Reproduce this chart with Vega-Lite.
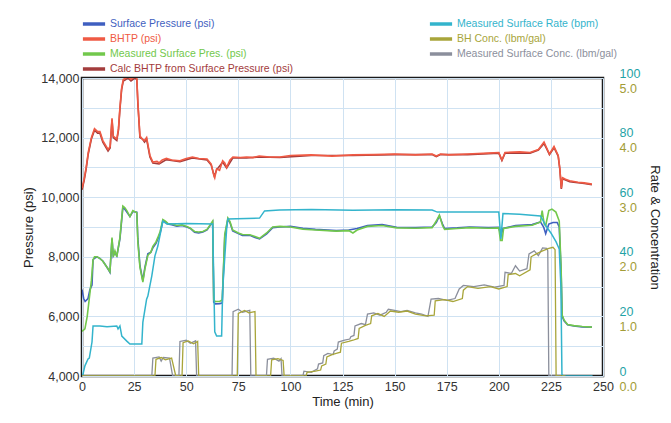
{
  "$schema": "https://vega.github.io/schema/vega-lite/v6.json",
  "width": 521,
  "height": 298,
  "autosize": {"type": "none"},
  "padding": {"left": 82, "top": 78, "right": 68, "bottom": 47},
  "background": "white",
  "config": {
    "font": "Liberation Sans",
    "view": {"stroke": "#1a1a1a", "strokeWidth": 2.5},
    "axis": {"gridColor": "#cfe2f2", "gridWidth": 1, "ticks": false, "domain": false, "labelFontSize": 12.5, "titleFontSize": 13, "titleFontWeight": "normal", "labelColor": "#333333", "titleColor": "#222222"},
    "legend": {"padding": 0, "labelFontSize": 10.5, "labelLimit": 400, "symbolType": "M-1.85,0H1.85", "symbolStrokeWidth": 3.5, "symbolSize": 144, "labelOffset": 8, "rowPadding": 0}
  },
  "datasets": {
    "pressure": [
      {"series": "Calc BHTP from Surface Pressure (psi)", "time": 0, "psi": 10250},
      {"series": "Calc BHTP from Surface Pressure (psi)", "time": 1, "psi": 10550},
      {"series": "Calc BHTP from Surface Pressure (psi)", "time": 2, "psi": 10950},
      {"series": "Calc BHTP from Surface Pressure (psi)", "time": 3, "psi": 11450},
      {"series": "Calc BHTP from Surface Pressure (psi)", "time": 4.5, "psi": 11950},
      {"series": "Calc BHTP from Surface Pressure (psi)", "time": 6, "psi": 12250},
      {"series": "Calc BHTP from Surface Pressure (psi)", "time": 7.5, "psi": 12150},
      {"series": "Calc BHTP from Surface Pressure (psi)", "time": 8.6, "psi": 12150},
      {"series": "Calc BHTP from Surface Pressure (psi)", "time": 10, "psi": 11850},
      {"series": "Calc BHTP from Surface Pressure (psi)", "time": 12.5, "psi": 11550},
      {"series": "Calc BHTP from Surface Pressure (psi)", "time": 13.5, "psi": 11650},
      {"series": "Calc BHTP from Surface Pressure (psi)", "time": 14.4, "psi": 12600},
      {"series": "Calc BHTP from Surface Pressure (psi)", "time": 15, "psi": 12000},
      {"series": "Calc BHTP from Surface Pressure (psi)", "time": 16.7, "psi": 11900},
      {"series": "Calc BHTP from Surface Pressure (psi)", "time": 17.5, "psi": 12250},
      {"series": "Calc BHTP from Surface Pressure (psi)", "time": 18.2, "psi": 12950},
      {"series": "Calc BHTP from Surface Pressure (psi)", "time": 19, "psi": 13600},
      {"series": "Calc BHTP from Surface Pressure (psi)", "time": 19.8, "psi": 13900},
      {"series": "Calc BHTP from Surface Pressure (psi)", "time": 21, "psi": 13950},
      {"series": "Calc BHTP from Surface Pressure (psi)", "time": 22, "psi": 14000},
      {"series": "Calc BHTP from Surface Pressure (psi)", "time": 23.5, "psi": 13900},
      {"series": "Calc BHTP from Surface Pressure (psi)", "time": 25.4, "psi": 14000},
      {"series": "Calc BHTP from Surface Pressure (psi)", "time": 26.3, "psi": 13950},
      {"series": "Calc BHTP from Surface Pressure (psi)", "time": 26.8, "psi": 13150},
      {"series": "Calc BHTP from Surface Pressure (psi)", "time": 27.8, "psi": 12000},
      {"series": "Calc BHTP from Surface Pressure (psi)", "time": 29, "psi": 11950},
      {"series": "Calc BHTP from Surface Pressure (psi)", "time": 30, "psi": 11850},
      {"series": "Calc BHTP from Surface Pressure (psi)", "time": 31, "psi": 11950},
      {"series": "Calc BHTP from Surface Pressure (psi)", "time": 32.6, "psi": 11350},
      {"series": "Calc BHTP from Surface Pressure (psi)", "time": 34, "psi": 11150},
      {"series": "Calc BHTP from Surface Pressure (psi)", "time": 37, "psi": 11120},
      {"series": "Calc BHTP from Surface Pressure (psi)", "time": 40.5, "psi": 11260},
      {"series": "Calc BHTP from Surface Pressure (psi)", "time": 47, "psi": 11190},
      {"series": "Calc BHTP from Surface Pressure (psi)", "time": 53, "psi": 11320},
      {"series": "Calc BHTP from Surface Pressure (psi)", "time": 60, "psi": 11250},
      {"series": "Calc BHTP from Surface Pressure (psi)", "time": 62, "psi": 11080},
      {"series": "Calc BHTP from Surface Pressure (psi)", "time": 63.5, "psi": 10700},
      {"series": "Calc BHTP from Surface Pressure (psi)", "time": 64.6, "psi": 10920},
      {"series": "Calc BHTP from Surface Pressure (psi)", "time": 67.5, "psi": 11180},
      {"series": "Calc BHTP from Surface Pressure (psi)", "time": 69.4, "psi": 10980},
      {"series": "Calc BHTP from Surface Pressure (psi)", "time": 72.4, "psi": 11320},
      {"series": "Calc BHTP from Surface Pressure (psi)", "time": 79, "psi": 11320},
      {"series": "Calc BHTP from Surface Pressure (psi)", "time": 85, "psi": 11350},
      {"series": "Calc BHTP from Surface Pressure (psi)", "time": 95, "psi": 11330},
      {"series": "Calc BHTP from Surface Pressure (psi)", "time": 110, "psi": 11400},
      {"series": "Calc BHTP from Surface Pressure (psi)", "time": 130, "psi": 11400},
      {"series": "Calc BHTP from Surface Pressure (psi)", "time": 150, "psi": 11430},
      {"series": "Calc BHTP from Surface Pressure (psi)", "time": 168, "psi": 11430},
      {"series": "Calc BHTP from Surface Pressure (psi)", "time": 170, "psi": 11360},
      {"series": "Calc BHTP from Surface Pressure (psi)", "time": 172, "psi": 11430},
      {"series": "Calc BHTP from Surface Pressure (psi)", "time": 185, "psi": 11430},
      {"series": "Calc BHTP from Surface Pressure (psi)", "time": 200, "psi": 11480},
      {"series": "Calc BHTP from Surface Pressure (psi)", "time": 201.5, "psi": 11230},
      {"series": "Calc BHTP from Surface Pressure (psi)", "time": 203, "psi": 11480},
      {"series": "Calc BHTP from Surface Pressure (psi)", "time": 215, "psi": 11480},
      {"series": "Calc BHTP from Surface Pressure (psi)", "time": 219, "psi": 11580},
      {"series": "Calc BHTP from Surface Pressure (psi)", "time": 221.7, "psi": 11800},
      {"series": "Calc BHTP from Surface Pressure (psi)", "time": 223, "psi": 11620},
      {"series": "Calc BHTP from Surface Pressure (psi)", "time": 224.3, "psi": 11430},
      {"series": "Calc BHTP from Surface Pressure (psi)", "time": 226.5, "psi": 11660},
      {"series": "Calc BHTP from Surface Pressure (psi)", "time": 228.5, "psi": 11380},
      {"series": "Calc BHTP from Surface Pressure (psi)", "time": 229.3, "psi": 10930},
      {"series": "Calc BHTP from Surface Pressure (psi)", "time": 230, "psi": 10280},
      {"series": "Calc BHTP from Surface Pressure (psi)", "time": 230.6, "psi": 10620},
      {"series": "Calc BHTP from Surface Pressure (psi)", "time": 234, "psi": 10520},
      {"series": "Calc BHTP from Surface Pressure (psi)", "time": 241, "psi": 10460},
      {"series": "Calc BHTP from Surface Pressure (psi)", "time": 244.7, "psi": 10420},

      {"series": "BHTP (psi)", "time": 0, "psi": 10300},
      {"series": "BHTP (psi)", "time": 1, "psi": 10600},
      {"series": "BHTP (psi)", "time": 2, "psi": 11000},
      {"series": "BHTP (psi)", "time": 3, "psi": 11500},
      {"series": "BHTP (psi)", "time": 4.5, "psi": 12000},
      {"series": "BHTP (psi)", "time": 6, "psi": 12300},
      {"series": "BHTP (psi)", "time": 7.5, "psi": 12200},
      {"series": "BHTP (psi)", "time": 8.6, "psi": 12200},
      {"series": "BHTP (psi)", "time": 10, "psi": 11900},
      {"series": "BHTP (psi)", "time": 12.5, "psi": 11600},
      {"series": "BHTP (psi)", "time": 13.5, "psi": 11700},
      {"series": "BHTP (psi)", "time": 14.4, "psi": 12650},
      {"series": "BHTP (psi)", "time": 15, "psi": 12050},
      {"series": "BHTP (psi)", "time": 16.7, "psi": 11950},
      {"series": "BHTP (psi)", "time": 17.5, "psi": 12300},
      {"series": "BHTP (psi)", "time": 18.2, "psi": 13000},
      {"series": "BHTP (psi)", "time": 19, "psi": 13650},
      {"series": "BHTP (psi)", "time": 19.8, "psi": 13950},
      {"series": "BHTP (psi)", "time": 21, "psi": 14000},
      {"series": "BHTP (psi)", "time": 22, "psi": 14050},
      {"series": "BHTP (psi)", "time": 23.5, "psi": 13950},
      {"series": "BHTP (psi)", "time": 25.4, "psi": 14070},
      {"series": "BHTP (psi)", "time": 26.3, "psi": 14000},
      {"series": "BHTP (psi)", "time": 26.8, "psi": 13200},
      {"series": "BHTP (psi)", "time": 27.8, "psi": 12050},
      {"series": "BHTP (psi)", "time": 29, "psi": 11950},
      {"series": "BHTP (psi)", "time": 30, "psi": 11900},
      {"series": "BHTP (psi)", "time": 31, "psi": 12000},
      {"series": "BHTP (psi)", "time": 32.6, "psi": 11400},
      {"series": "BHTP (psi)", "time": 34, "psi": 11180},
      {"series": "BHTP (psi)", "time": 36, "psi": 11200},
      {"series": "BHTP (psi)", "time": 37, "psi": 11150},
      {"series": "BHTP (psi)", "time": 38.5, "psi": 11250},
      {"series": "BHTP (psi)", "time": 40.5, "psi": 11300},
      {"series": "BHTP (psi)", "time": 43, "psi": 11250},
      {"series": "BHTP (psi)", "time": 47, "psi": 11220},
      {"series": "BHTP (psi)", "time": 50, "psi": 11300},
      {"series": "BHTP (psi)", "time": 53, "psi": 11350},
      {"series": "BHTP (psi)", "time": 56, "psi": 11300},
      {"series": "BHTP (psi)", "time": 60, "psi": 11280},
      {"series": "BHTP (psi)", "time": 62, "psi": 11110},
      {"series": "BHTP (psi)", "time": 63.2, "psi": 10750},
      {"series": "BHTP (psi)", "time": 63.7, "psi": 10650},
      {"series": "BHTP (psi)", "time": 64.6, "psi": 10950},
      {"series": "BHTP (psi)", "time": 66, "psi": 10900},
      {"series": "BHTP (psi)", "time": 67.5, "psi": 11220},
      {"series": "BHTP (psi)", "time": 68.5, "psi": 11150},
      {"series": "BHTP (psi)", "time": 69.4, "psi": 11000},
      {"series": "BHTP (psi)", "time": 71, "psi": 11250},
      {"series": "BHTP (psi)", "time": 72.4, "psi": 11350},
      {"series": "BHTP (psi)", "time": 76, "psi": 11330},
      {"series": "BHTP (psi)", "time": 79, "psi": 11350},
      {"series": "BHTP (psi)", "time": 82, "psi": 11330},
      {"series": "BHTP (psi)", "time": 85, "psi": 11380},
      {"series": "BHTP (psi)", "time": 90, "psi": 11350},
      {"series": "BHTP (psi)", "time": 95, "psi": 11350},
      {"series": "BHTP (psi)", "time": 100, "psi": 11400},
      {"series": "BHTP (psi)", "time": 110, "psi": 11420},
      {"series": "BHTP (psi)", "time": 120, "psi": 11380},
      {"series": "BHTP (psi)", "time": 130, "psi": 11420},
      {"series": "BHTP (psi)", "time": 140, "psi": 11430},
      {"series": "BHTP (psi)", "time": 150, "psi": 11450},
      {"series": "BHTP (psi)", "time": 160, "psi": 11420},
      {"series": "BHTP (psi)", "time": 168, "psi": 11450},
      {"series": "BHTP (psi)", "time": 170, "psi": 11380},
      {"series": "BHTP (psi)", "time": 172, "psi": 11450},
      {"series": "BHTP (psi)", "time": 176, "psi": 11420},
      {"series": "BHTP (psi)", "time": 185, "psi": 11450},
      {"series": "BHTP (psi)", "time": 195, "psi": 11480},
      {"series": "BHTP (psi)", "time": 200, "psi": 11500},
      {"series": "BHTP (psi)", "time": 201.5, "psi": 11250},
      {"series": "BHTP (psi)", "time": 203, "psi": 11500},
      {"series": "BHTP (psi)", "time": 210, "psi": 11520},
      {"series": "BHTP (psi)", "time": 215, "psi": 11500},
      {"series": "BHTP (psi)", "time": 219, "psi": 11600},
      {"series": "BHTP (psi)", "time": 221.7, "psi": 11850},
      {"series": "BHTP (psi)", "time": 223, "psi": 11650},
      {"series": "BHTP (psi)", "time": 224.3, "psi": 11450},
      {"series": "BHTP (psi)", "time": 226.5, "psi": 11700},
      {"series": "BHTP (psi)", "time": 228.5, "psi": 11400},
      {"series": "BHTP (psi)", "time": 229.3, "psi": 10950},
      {"series": "BHTP (psi)", "time": 230, "psi": 10300},
      {"series": "BHTP (psi)", "time": 230.6, "psi": 10650},
      {"series": "BHTP (psi)", "time": 232, "psi": 10600},
      {"series": "BHTP (psi)", "time": 234, "psi": 10550},
      {"series": "BHTP (psi)", "time": 238, "psi": 10500},
      {"series": "BHTP (psi)", "time": 241, "psi": 10480},
      {"series": "BHTP (psi)", "time": 244.7, "psi": 10440},

      {"series": "Surface Pressure (psi)", "time": 0, "psi": 6900},
      {"series": "Surface Pressure (psi)", "time": 0.8, "psi": 6600},
      {"series": "Surface Pressure (psi)", "time": 1.5, "psi": 6500},
      {"series": "Surface Pressure (psi)", "time": 2.9, "psi": 6600},
      {"series": "Surface Pressure (psi)", "time": 3.8, "psi": 6900},
      {"series": "Surface Pressure (psi)", "time": 4.8, "psi": 7050},
      {"series": "Surface Pressure (psi)", "time": 5.3, "psi": 7900},
      {"series": "Surface Pressure (psi)", "time": 6, "psi": 7950},
      {"series": "Surface Pressure (psi)", "time": 7.2, "psi": 8000},
      {"series": "Surface Pressure (psi)", "time": 8.5, "psi": 7950},
      {"series": "Surface Pressure (psi)", "time": 10, "psi": 7860},
      {"series": "Surface Pressure (psi)", "time": 11.5, "psi": 7700},
      {"series": "Surface Pressure (psi)", "time": 12.5, "psi": 7590},
      {"series": "Surface Pressure (psi)", "time": 13.4, "psi": 7480},
      {"series": "Surface Pressure (psi)", "time": 14.4, "psi": 8600},
      {"series": "Surface Pressure (psi)", "time": 15, "psi": 8030},
      {"series": "Surface Pressure (psi)", "time": 15.8, "psi": 8150},
      {"series": "Surface Pressure (psi)", "time": 16.7, "psi": 8030},
      {"series": "Surface Pressure (psi)", "time": 18.2, "psi": 8600},
      {"series": "Surface Pressure (psi)", "time": 19.6, "psi": 9650},
      {"series": "Surface Pressure (psi)", "time": 20.5, "psi": 9600},
      {"series": "Surface Pressure (psi)", "time": 21.5, "psi": 9500},
      {"series": "Surface Pressure (psi)", "time": 23, "psi": 9350},
      {"series": "Surface Pressure (psi)", "time": 24.4, "psi": 9520},
      {"series": "Surface Pressure (psi)", "time": 26.3, "psi": 9500},
      {"series": "Surface Pressure (psi)", "time": 26.8, "psi": 8600},
      {"series": "Surface Pressure (psi)", "time": 27.8, "psi": 7700},
      {"series": "Surface Pressure (psi)", "time": 29.2, "psi": 7200},
      {"series": "Surface Pressure (psi)", "time": 30.2, "psi": 7650},
      {"series": "Surface Pressure (psi)", "time": 31.6, "psi": 8100},
      {"series": "Surface Pressure (psi)", "time": 33, "psi": 8150},
      {"series": "Surface Pressure (psi)", "time": 34, "psi": 8300},
      {"series": "Surface Pressure (psi)", "time": 35.5, "psi": 8450},
      {"series": "Surface Pressure (psi)", "time": 36.4, "psi": 8600},
      {"series": "Surface Pressure (psi)", "time": 37.5, "psi": 8800},
      {"series": "Surface Pressure (psi)", "time": 38.8, "psi": 9200},
      {"series": "Surface Pressure (psi)", "time": 40, "psi": 9180},
      {"series": "Surface Pressure (psi)", "time": 41.2, "psi": 9100},
      {"series": "Surface Pressure (psi)", "time": 43, "psi": 9080},
      {"series": "Surface Pressure (psi)", "time": 45.5, "psi": 9030},
      {"series": "Surface Pressure (psi)", "time": 48, "psi": 9050},
      {"series": "Surface Pressure (psi)", "time": 50.3, "psi": 9000},
      {"series": "Surface Pressure (psi)", "time": 52, "psi": 8950},
      {"series": "Surface Pressure (psi)", "time": 54, "psi": 8820},
      {"series": "Surface Pressure (psi)", "time": 56, "psi": 8800},
      {"series": "Surface Pressure (psi)", "time": 58, "psi": 8830},
      {"series": "Surface Pressure (psi)", "time": 60, "psi": 8900},
      {"series": "Surface Pressure (psi)", "time": 61.3, "psi": 9030},
      {"series": "Surface Pressure (psi)", "time": 62.7, "psi": 9170},
      {"series": "Surface Pressure (psi)", "time": 63.2, "psi": 6480},
      {"series": "Surface Pressure (psi)", "time": 64, "psi": 6420},
      {"series": "Surface Pressure (psi)", "time": 66, "psi": 6430},
      {"series": "Surface Pressure (psi)", "time": 67.3, "psi": 6450},
      {"series": "Surface Pressure (psi)", "time": 68.5, "psi": 8670},
      {"series": "Surface Pressure (psi)", "time": 70, "psi": 9270},
      {"series": "Surface Pressure (psi)", "time": 71, "psi": 9150},
      {"series": "Surface Pressure (psi)", "time": 72.3, "psi": 8870},
      {"series": "Surface Pressure (psi)", "time": 75, "psi": 8780},
      {"series": "Surface Pressure (psi)", "time": 77, "psi": 8720},
      {"series": "Surface Pressure (psi)", "time": 80.5, "psi": 8720},
      {"series": "Surface Pressure (psi)", "time": 83, "psi": 8650},
      {"series": "Surface Pressure (psi)", "time": 85.2, "psi": 8600},
      {"series": "Surface Pressure (psi)", "time": 88.6, "psi": 8770},
      {"series": "Surface Pressure (psi)", "time": 91.5, "psi": 8980},
      {"series": "Surface Pressure (psi)", "time": 95, "psi": 9000},
      {"series": "Surface Pressure (psi)", "time": 100, "psi": 9020},
      {"series": "Surface Pressure (psi)", "time": 106, "psi": 8960},
      {"series": "Surface Pressure (psi)", "time": 112, "psi": 8920},
      {"series": "Surface Pressure (psi)", "time": 122, "psi": 8880},
      {"series": "Surface Pressure (psi)", "time": 128, "psi": 8900},
      {"series": "Surface Pressure (psi)", "time": 132, "psi": 8950},
      {"series": "Surface Pressure (psi)", "time": 137, "psi": 9050},
      {"series": "Surface Pressure (psi)", "time": 144, "psi": 9080},
      {"series": "Surface Pressure (psi)", "time": 151, "psi": 8990},
      {"series": "Surface Pressure (psi)", "time": 160, "psi": 8980},
      {"series": "Surface Pressure (psi)", "time": 168, "psi": 9000},
      {"series": "Surface Pressure (psi)", "time": 170, "psi": 9150},
      {"series": "Surface Pressure (psi)", "time": 171.5, "psi": 9370},
      {"series": "Surface Pressure (psi)", "time": 173, "psi": 9100},
      {"series": "Surface Pressure (psi)", "time": 174, "psi": 8950},
      {"series": "Surface Pressure (psi)", "time": 180, "psi": 8970},
      {"series": "Surface Pressure (psi)", "time": 186, "psi": 9000},
      {"series": "Surface Pressure (psi)", "time": 195, "psi": 8980},
      {"series": "Surface Pressure (psi)", "time": 200, "psi": 8990},
      {"series": "Surface Pressure (psi)", "time": 201, "psi": 8700},
      {"series": "Surface Pressure (psi)", "time": 202, "psi": 8950},
      {"series": "Surface Pressure (psi)", "time": 208, "psi": 9050},
      {"series": "Surface Pressure (psi)", "time": 216, "psi": 9080},
      {"series": "Surface Pressure (psi)", "time": 220, "psi": 9170},
      {"series": "Surface Pressure (psi)", "time": 221.5, "psi": 9000},
      {"series": "Surface Pressure (psi)", "time": 222.5, "psi": 8780},
      {"series": "Surface Pressure (psi)", "time": 224, "psi": 9100},
      {"series": "Surface Pressure (psi)", "time": 226, "psi": 9150},
      {"series": "Surface Pressure (psi)", "time": 228, "psi": 9150},
      {"series": "Surface Pressure (psi)", "time": 229, "psi": 9000},
      {"series": "Surface Pressure (psi)", "time": 229.9, "psi": 7500},
      {"series": "Surface Pressure (psi)", "time": 230.4, "psi": 6010},
      {"series": "Surface Pressure (psi)", "time": 231.3, "psi": 5850},
      {"series": "Surface Pressure (psi)", "time": 233, "psi": 5720},
      {"series": "Surface Pressure (psi)", "time": 236, "psi": 5680},
      {"series": "Surface Pressure (psi)", "time": 240, "psi": 5650},
      {"series": "Surface Pressure (psi)", "time": 244.7, "psi": 5640},

      {"series": "Measured Surface Pres. (psi)", "time": 0, "psi": 5500},
      {"series": "Measured Surface Pres. (psi)", "time": 1.4, "psi": 5580},
      {"series": "Measured Surface Pres. (psi)", "time": 2.5, "psi": 6000},
      {"series": "Measured Surface Pres. (psi)", "time": 3.5, "psi": 6600},
      {"series": "Measured Surface Pres. (psi)", "time": 4.5, "psi": 7200},
      {"series": "Measured Surface Pres. (psi)", "time": 5.3, "psi": 7900},
      {"series": "Measured Surface Pres. (psi)", "time": 6, "psi": 8000},
      {"series": "Measured Surface Pres. (psi)", "time": 7.2, "psi": 8000},
      {"series": "Measured Surface Pres. (psi)", "time": 8.5, "psi": 7950},
      {"series": "Measured Surface Pres. (psi)", "time": 10, "psi": 7850},
      {"series": "Measured Surface Pres. (psi)", "time": 11.5, "psi": 7700},
      {"series": "Measured Surface Pres. (psi)", "time": 12.5, "psi": 7600},
      {"series": "Measured Surface Pres. (psi)", "time": 13.4, "psi": 7500},
      {"series": "Measured Surface Pres. (psi)", "time": 14.4, "psi": 8650},
      {"series": "Measured Surface Pres. (psi)", "time": 15, "psi": 8000},
      {"series": "Measured Surface Pres. (psi)", "time": 15.8, "psi": 8200},
      {"series": "Measured Surface Pres. (psi)", "time": 16.7, "psi": 8000},
      {"series": "Measured Surface Pres. (psi)", "time": 18.2, "psi": 8650},
      {"series": "Measured Surface Pres. (psi)", "time": 19.6, "psi": 9700},
      {"series": "Measured Surface Pres. (psi)", "time": 20.5, "psi": 9650},
      {"series": "Measured Surface Pres. (psi)", "time": 21.5, "psi": 9550},
      {"series": "Measured Surface Pres. (psi)", "time": 23, "psi": 9350},
      {"series": "Measured Surface Pres. (psi)", "time": 24.4, "psi": 9550},
      {"series": "Measured Surface Pres. (psi)", "time": 26.3, "psi": 9480},
      {"series": "Measured Surface Pres. (psi)", "time": 26.8, "psi": 8500},
      {"series": "Measured Surface Pres. (psi)", "time": 27.8, "psi": 7650},
      {"series": "Measured Surface Pres. (psi)", "time": 29.2, "psi": 7150},
      {"series": "Measured Surface Pres. (psi)", "time": 30.2, "psi": 7600},
      {"series": "Measured Surface Pres. (psi)", "time": 31.6, "psi": 8050},
      {"series": "Measured Surface Pres. (psi)", "time": 33, "psi": 8150},
      {"series": "Measured Surface Pres. (psi)", "time": 34, "psi": 8350},
      {"series": "Measured Surface Pres. (psi)", "time": 35.5, "psi": 8500},
      {"series": "Measured Surface Pres. (psi)", "time": 36.4, "psi": 8650},
      {"series": "Measured Surface Pres. (psi)", "time": 37.5, "psi": 8850},
      {"series": "Measured Surface Pres. (psi)", "time": 38.8, "psi": 9250},
      {"series": "Measured Surface Pres. (psi)", "time": 40, "psi": 9200},
      {"series": "Measured Surface Pres. (psi)", "time": 41.2, "psi": 9120},
      {"series": "Measured Surface Pres. (psi)", "time": 43, "psi": 9100},
      {"series": "Measured Surface Pres. (psi)", "time": 45.5, "psi": 9050},
      {"series": "Measured Surface Pres. (psi)", "time": 48, "psi": 9070},
      {"series": "Measured Surface Pres. (psi)", "time": 50.3, "psi": 9020},
      {"series": "Measured Surface Pres. (psi)", "time": 52, "psi": 8960},
      {"series": "Measured Surface Pres. (psi)", "time": 54, "psi": 8850},
      {"series": "Measured Surface Pres. (psi)", "time": 56, "psi": 8830},
      {"series": "Measured Surface Pres. (psi)", "time": 58, "psi": 8850},
      {"series": "Measured Surface Pres. (psi)", "time": 60, "psi": 8920},
      {"series": "Measured Surface Pres. (psi)", "time": 61.3, "psi": 9050},
      {"series": "Measured Surface Pres. (psi)", "time": 62.7, "psi": 9200},
      {"series": "Measured Surface Pres. (psi)", "time": 63.2, "psi": 6550},
      {"series": "Measured Surface Pres. (psi)", "time": 64, "psi": 6500},
      {"series": "Measured Surface Pres. (psi)", "time": 66, "psi": 6500},
      {"series": "Measured Surface Pres. (psi)", "time": 67.3, "psi": 6550},
      {"series": "Measured Surface Pres. (psi)", "time": 68.5, "psi": 8750},
      {"series": "Measured Surface Pres. (psi)", "time": 70, "psi": 9300},
      {"series": "Measured Surface Pres. (psi)", "time": 71, "psi": 9180},
      {"series": "Measured Surface Pres. (psi)", "time": 72.3, "psi": 8900},
      {"series": "Measured Surface Pres. (psi)", "time": 75, "psi": 8800},
      {"series": "Measured Surface Pres. (psi)", "time": 77, "psi": 8750},
      {"series": "Measured Surface Pres. (psi)", "time": 80.5, "psi": 8740},
      {"series": "Measured Surface Pres. (psi)", "time": 83, "psi": 8680},
      {"series": "Measured Surface Pres. (psi)", "time": 85.2, "psi": 8620},
      {"series": "Measured Surface Pres. (psi)", "time": 88.6, "psi": 8800},
      {"series": "Measured Surface Pres. (psi)", "time": 91.5, "psi": 9000},
      {"series": "Measured Surface Pres. (psi)", "time": 95, "psi": 9020},
      {"series": "Measured Surface Pres. (psi)", "time": 100, "psi": 9000},
      {"series": "Measured Surface Pres. (psi)", "time": 106, "psi": 8930},
      {"series": "Measured Surface Pres. (psi)", "time": 112, "psi": 8900},
      {"series": "Measured Surface Pres. (psi)", "time": 122, "psi": 8860},
      {"series": "Measured Surface Pres. (psi)", "time": 128, "psi": 8880},
      {"series": "Measured Surface Pres. (psi)", "time": 130, "psi": 8800},
      {"series": "Measured Surface Pres. (psi)", "time": 132, "psi": 8900},
      {"series": "Measured Surface Pres. (psi)", "time": 137, "psi": 9020},
      {"series": "Measured Surface Pres. (psi)", "time": 144, "psi": 9050},
      {"series": "Measured Surface Pres. (psi)", "time": 151, "psi": 8970},
      {"series": "Measured Surface Pres. (psi)", "time": 160, "psi": 8960},
      {"series": "Measured Surface Pres. (psi)", "time": 168, "psi": 8980},
      {"series": "Measured Surface Pres. (psi)", "time": 170, "psi": 9200},
      {"series": "Measured Surface Pres. (psi)", "time": 171.5, "psi": 9400},
      {"series": "Measured Surface Pres. (psi)", "time": 173, "psi": 9050},
      {"series": "Measured Surface Pres. (psi)", "time": 174, "psi": 8920},
      {"series": "Measured Surface Pres. (psi)", "time": 180, "psi": 8950},
      {"series": "Measured Surface Pres. (psi)", "time": 186, "psi": 8980},
      {"series": "Measured Surface Pres. (psi)", "time": 195, "psi": 8960},
      {"series": "Measured Surface Pres. (psi)", "time": 200, "psi": 8970},
      {"series": "Measured Surface Pres. (psi)", "time": 200.8, "psi": 8550},
      {"series": "Measured Surface Pres. (psi)", "time": 201.6, "psi": 8550},
      {"series": "Measured Surface Pres. (psi)", "time": 202.3, "psi": 8950},
      {"series": "Measured Surface Pres. (psi)", "time": 208, "psi": 9020},
      {"series": "Measured Surface Pres. (psi)", "time": 216, "psi": 9060},
      {"series": "Measured Surface Pres. (psi)", "time": 220, "psi": 9170},
      {"series": "Measured Surface Pres. (psi)", "time": 220.8, "psi": 9550},
      {"series": "Measured Surface Pres. (psi)", "time": 221.8, "psi": 9100},
      {"series": "Measured Surface Pres. (psi)", "time": 222.5, "psi": 9050},
      {"series": "Measured Surface Pres. (psi)", "time": 224, "psi": 9550},
      {"series": "Measured Surface Pres. (psi)", "time": 225.5, "psi": 9600},
      {"series": "Measured Surface Pres. (psi)", "time": 227.4, "psi": 9500},
      {"series": "Measured Surface Pres. (psi)", "time": 229, "psi": 9200},
      {"series": "Measured Surface Pres. (psi)", "time": 229.9, "psi": 7600},
      {"series": "Measured Surface Pres. (psi)", "time": 230.4, "psi": 6050},
      {"series": "Measured Surface Pres. (psi)", "time": 231.3, "psi": 5880},
      {"series": "Measured Surface Pres. (psi)", "time": 233, "psi": 5730},
      {"series": "Measured Surface Pres. (psi)", "time": 236, "psi": 5690},
      {"series": "Measured Surface Pres. (psi)", "time": 240, "psi": 5660},
      {"series": "Measured Surface Pres. (psi)", "time": 244.7, "psi": 5640}
    ],
    "rate": [
      {"series": "Measured Surface Rate (bpm)", "time": 0, "bpm": 0},
      {"series": "Measured Surface Rate (bpm)", "time": 0.5, "bpm": 0.7},
      {"series": "Measured Surface Rate (bpm)", "time": 1.4, "bpm": 3.4},
      {"series": "Measured Surface Rate (bpm)", "time": 2.9, "bpm": 5.7},
      {"series": "Measured Surface Rate (bpm)", "time": 3.5, "bpm": 6},
      {"series": "Measured Surface Rate (bpm)", "time": 4.8, "bpm": 11.4},
      {"series": "Measured Surface Rate (bpm)", "time": 5.3, "bpm": 16.8},
      {"series": "Measured Surface Rate (bpm)", "time": 8.6, "bpm": 16.8},
      {"series": "Measured Surface Rate (bpm)", "time": 12, "bpm": 16.5},
      {"series": "Measured Surface Rate (bpm)", "time": 16.7, "bpm": 16.8},
      {"series": "Measured Surface Rate (bpm)", "time": 17.3, "bpm": 15.8},
      {"series": "Measured Surface Rate (bpm)", "time": 18.2, "bpm": 16.8},
      {"series": "Measured Surface Rate (bpm)", "time": 19.1, "bpm": 13.4},
      {"series": "Measured Surface Rate (bpm)", "time": 21.5, "bpm": 11.7},
      {"series": "Measured Surface Rate (bpm)", "time": 23, "bpm": 10.7},
      {"series": "Measured Surface Rate (bpm)", "time": 28.7, "bpm": 10.7},
      {"series": "Measured Surface Rate (bpm)", "time": 29.2, "bpm": 18},
      {"series": "Measured Surface Rate (bpm)", "time": 31, "bpm": 25.8},
      {"series": "Measured Surface Rate (bpm)", "time": 31.6, "bpm": 26.8},
      {"series": "Measured Surface Rate (bpm)", "time": 33.5, "bpm": 33.6},
      {"series": "Measured Surface Rate (bpm)", "time": 35, "bpm": 40.3},
      {"series": "Measured Surface Rate (bpm)", "time": 36.4, "bpm": 43.6},
      {"series": "Measured Surface Rate (bpm)", "time": 38.3, "bpm": 50.3},
      {"series": "Measured Surface Rate (bpm)", "time": 38.8, "bpm": 52},
      {"series": "Measured Surface Rate (bpm)", "time": 40.7, "bpm": 51},
      {"series": "Measured Surface Rate (bpm)", "time": 50, "bpm": 51.2},
      {"series": "Measured Surface Rate (bpm)", "time": 62.7, "bpm": 51},
      {"series": "Measured Surface Rate (bpm)", "time": 63.7, "bpm": 14.8},
      {"series": "Measured Surface Rate (bpm)", "time": 64.6, "bpm": 13.4},
      {"series": "Measured Surface Rate (bpm)", "time": 67, "bpm": 13.4},
      {"series": "Measured Surface Rate (bpm)", "time": 67.5, "bpm": 29},
      {"series": "Measured Surface Rate (bpm)", "time": 69.4, "bpm": 49.3},
      {"series": "Measured Surface Rate (bpm)", "time": 70, "bpm": 52.7},
      {"series": "Measured Surface Rate (bpm)", "time": 85.2, "bpm": 53},
      {"series": "Measured Surface Rate (bpm)", "time": 87.6, "bpm": 55.4},
      {"series": "Measured Surface Rate (bpm)", "time": 94.8, "bpm": 55.7},
      {"series": "Measured Surface Rate (bpm)", "time": 110, "bpm": 55.9},
      {"series": "Measured Surface Rate (bpm)", "time": 130, "bpm": 55.6},
      {"series": "Measured Surface Rate (bpm)", "time": 150, "bpm": 55.8},
      {"series": "Measured Surface Rate (bpm)", "time": 168, "bpm": 55.7},
      {"series": "Measured Surface Rate (bpm)", "time": 170.5, "bpm": 55},
      {"series": "Measured Surface Rate (bpm)", "time": 186, "bpm": 55},
      {"series": "Measured Surface Rate (bpm)", "time": 200, "bpm": 55},
      {"series": "Measured Surface Rate (bpm)", "time": 201, "bpm": 46},
      {"series": "Measured Surface Rate (bpm)", "time": 202, "bpm": 54.5},
      {"series": "Measured Surface Rate (bpm)", "time": 210, "bpm": 54.3},
      {"series": "Measured Surface Rate (bpm)", "time": 220, "bpm": 53.7},
      {"series": "Measured Surface Rate (bpm)", "time": 222.7, "bpm": 50.3},
      {"series": "Measured Surface Rate (bpm)", "time": 225, "bpm": 48},
      {"series": "Measured Surface Rate (bpm)", "time": 227.5, "bpm": 45},
      {"series": "Measured Surface Rate (bpm)", "time": 229, "bpm": 42.6},
      {"series": "Measured Surface Rate (bpm)", "time": 229.8, "bpm": 30},
      {"series": "Measured Surface Rate (bpm)", "time": 230.3, "bpm": 0.5},
      {"series": "Measured Surface Rate (bpm)", "time": 231, "bpm": 0},
      {"series": "Measured Surface Rate (bpm)", "time": 245, "bpm": 0}
    ],
    "conc": [
      {"series": "Measured Surface Conc. (lbm/gal)", "time": 0, "ppg": 0},
      {"series": "Measured Surface Conc. (lbm/gal)", "time": 33.5, "ppg": 0},
      {"series": "Measured Surface Conc. (lbm/gal)", "time": 34, "ppg": 0.3},
      {"series": "Measured Surface Conc. (lbm/gal)", "time": 37, "ppg": 0.32},
      {"series": "Measured Surface Conc. (lbm/gal)", "time": 38, "ppg": 0.25},
      {"series": "Measured Surface Conc. (lbm/gal)", "time": 39, "ppg": 0.31},
      {"series": "Measured Surface Conc. (lbm/gal)", "time": 42, "ppg": 0.3},
      {"series": "Measured Surface Conc. (lbm/gal)", "time": 43.5, "ppg": 0},
      {"series": "Measured Surface Conc. (lbm/gal)", "time": 46.5, "ppg": 0},
      {"series": "Measured Surface Conc. (lbm/gal)", "time": 47, "ppg": 0.58},
      {"series": "Measured Surface Conc. (lbm/gal)", "time": 50, "ppg": 0.6},
      {"series": "Measured Surface Conc. (lbm/gal)", "time": 52, "ppg": 0.55},
      {"series": "Measured Surface Conc. (lbm/gal)", "time": 54.5, "ppg": 0.59},
      {"series": "Measured Surface Conc. (lbm/gal)", "time": 55, "ppg": 0},
      {"series": "Measured Surface Conc. (lbm/gal)", "time": 72, "ppg": 0},
      {"series": "Measured Surface Conc. (lbm/gal)", "time": 72.5, "ppg": 1.08},
      {"series": "Measured Surface Conc. (lbm/gal)", "time": 75, "ppg": 1.12},
      {"series": "Measured Surface Conc. (lbm/gal)", "time": 77, "ppg": 1.07},
      {"series": "Measured Surface Conc. (lbm/gal)", "time": 80.5, "ppg": 1.1},
      {"series": "Measured Surface Conc. (lbm/gal)", "time": 81, "ppg": 0},
      {"series": "Measured Surface Conc. (lbm/gal)", "time": 88.5, "ppg": 0},
      {"series": "Measured Surface Conc. (lbm/gal)", "time": 89, "ppg": 0.28},
      {"series": "Measured Surface Conc. (lbm/gal)", "time": 92, "ppg": 0.3},
      {"series": "Measured Surface Conc. (lbm/gal)", "time": 94.5, "ppg": 0.25},
      {"series": "Measured Surface Conc. (lbm/gal)", "time": 95.5, "ppg": 0.29},
      {"series": "Measured Surface Conc. (lbm/gal)", "time": 96, "ppg": 0},
      {"series": "Measured Surface Conc. (lbm/gal)", "time": 106, "ppg": 0},
      {"series": "Measured Surface Conc. (lbm/gal)", "time": 106.5, "ppg": 0.08},
      {"series": "Measured Surface Conc. (lbm/gal)", "time": 110, "ppg": 0.06},
      {"series": "Measured Surface Conc. (lbm/gal)", "time": 113, "ppg": 0.12},
      {"series": "Measured Surface Conc. (lbm/gal)", "time": 113.5, "ppg": 0.2},
      {"series": "Measured Surface Conc. (lbm/gal)", "time": 115.5, "ppg": 0.22},
      {"series": "Measured Surface Conc. (lbm/gal)", "time": 116, "ppg": 0.34},
      {"series": "Measured Surface Conc. (lbm/gal)", "time": 118, "ppg": 0.38},
      {"series": "Measured Surface Conc. (lbm/gal)", "time": 120.5, "ppg": 0.36},
      {"series": "Measured Surface Conc. (lbm/gal)", "time": 121, "ppg": 0.42},
      {"series": "Measured Surface Conc. (lbm/gal)", "time": 122.5, "ppg": 0.45},
      {"series": "Measured Surface Conc. (lbm/gal)", "time": 123, "ppg": 0.57},
      {"series": "Measured Surface Conc. (lbm/gal)", "time": 126, "ppg": 0.6},
      {"series": "Measured Surface Conc. (lbm/gal)", "time": 128.5, "ppg": 0.62},
      {"series": "Measured Surface Conc. (lbm/gal)", "time": 129, "ppg": 0.66},
      {"series": "Measured Surface Conc. (lbm/gal)", "time": 130.5, "ppg": 0.68},
      {"series": "Measured Surface Conc. (lbm/gal)", "time": 131, "ppg": 0.84},
      {"series": "Measured Surface Conc. (lbm/gal)", "time": 134, "ppg": 0.88},
      {"series": "Measured Surface Conc. (lbm/gal)", "time": 136, "ppg": 0.86},
      {"series": "Measured Surface Conc. (lbm/gal)", "time": 137, "ppg": 1.04},
      {"series": "Measured Surface Conc. (lbm/gal)", "time": 140, "ppg": 1.06},
      {"series": "Measured Surface Conc. (lbm/gal)", "time": 143, "ppg": 1.02},
      {"series": "Measured Surface Conc. (lbm/gal)", "time": 146, "ppg": 1.07},
      {"series": "Measured Surface Conc. (lbm/gal)", "time": 147, "ppg": 1.12},
      {"series": "Measured Surface Conc. (lbm/gal)", "time": 150, "ppg": 1.1},
      {"series": "Measured Surface Conc. (lbm/gal)", "time": 153, "ppg": 1.08},
      {"series": "Measured Surface Conc. (lbm/gal)", "time": 156, "ppg": 1.1},
      {"series": "Measured Surface Conc. (lbm/gal)", "time": 160, "ppg": 1.06},
      {"series": "Measured Surface Conc. (lbm/gal)", "time": 163, "ppg": 1.04},
      {"series": "Measured Surface Conc. (lbm/gal)", "time": 166, "ppg": 1.0},
      {"series": "Measured Surface Conc. (lbm/gal)", "time": 167.5, "ppg": 1.29},
      {"series": "Measured Surface Conc. (lbm/gal)", "time": 171, "ppg": 1.3},
      {"series": "Measured Surface Conc. (lbm/gal)", "time": 175, "ppg": 1.27},
      {"series": "Measured Surface Conc. (lbm/gal)", "time": 179, "ppg": 1.3},
      {"series": "Measured Surface Conc. (lbm/gal)", "time": 181, "ppg": 1.46},
      {"series": "Measured Surface Conc. (lbm/gal)", "time": 183, "ppg": 1.52},
      {"series": "Measured Surface Conc. (lbm/gal)", "time": 188, "ppg": 1.5},
      {"series": "Measured Surface Conc. (lbm/gal)", "time": 193, "ppg": 1.53},
      {"series": "Measured Surface Conc. (lbm/gal)", "time": 198, "ppg": 1.49},
      {"series": "Measured Surface Conc. (lbm/gal)", "time": 202.5, "ppg": 1.52},
      {"series": "Measured Surface Conc. (lbm/gal)", "time": 203, "ppg": 1.74},
      {"series": "Measured Surface Conc. (lbm/gal)", "time": 206, "ppg": 1.72},
      {"series": "Measured Surface Conc. (lbm/gal)", "time": 208, "ppg": 1.85},
      {"series": "Measured Surface Conc. (lbm/gal)", "time": 210, "ppg": 1.76},
      {"series": "Measured Surface Conc. (lbm/gal)", "time": 213.5, "ppg": 1.8},
      {"series": "Measured Surface Conc. (lbm/gal)", "time": 214.5, "ppg": 2.05},
      {"series": "Measured Surface Conc. (lbm/gal)", "time": 217, "ppg": 2.1},
      {"series": "Measured Surface Conc. (lbm/gal)", "time": 219, "ppg": 2.02},
      {"series": "Measured Surface Conc. (lbm/gal)", "time": 221, "ppg": 2.15},
      {"series": "Measured Surface Conc. (lbm/gal)", "time": 223, "ppg": 2.14},
      {"series": "Measured Surface Conc. (lbm/gal)", "time": 223.5, "ppg": 2.1},
      {"series": "Measured Surface Conc. (lbm/gal)", "time": 224, "ppg": 0},
      {"series": "Measured Surface Conc. (lbm/gal)", "time": 230, "ppg": 0},

      {"series": "BH Conc. (lbm/gal)", "time": 0, "ppg": 0},
      {"series": "BH Conc. (lbm/gal)", "time": 35, "ppg": 0},
      {"series": "BH Conc. (lbm/gal)", "time": 35.5, "ppg": 0.28},
      {"series": "BH Conc. (lbm/gal)", "time": 38, "ppg": 0.31},
      {"series": "BH Conc. (lbm/gal)", "time": 40, "ppg": 0.27},
      {"series": "BH Conc. (lbm/gal)", "time": 43, "ppg": 0.3},
      {"series": "BH Conc. (lbm/gal)", "time": 45, "ppg": 0},
      {"series": "BH Conc. (lbm/gal)", "time": 48, "ppg": 0},
      {"series": "BH Conc. (lbm/gal)", "time": 48.5, "ppg": 0.56},
      {"series": "BH Conc. (lbm/gal)", "time": 51, "ppg": 0.59},
      {"series": "BH Conc. (lbm/gal)", "time": 53.5, "ppg": 0.54},
      {"series": "BH Conc. (lbm/gal)", "time": 55.5, "ppg": 0.58},
      {"series": "BH Conc. (lbm/gal)", "time": 56, "ppg": 0},
      {"series": "BH Conc. (lbm/gal)", "time": 74.5, "ppg": 0},
      {"series": "BH Conc. (lbm/gal)", "time": 75, "ppg": 1.05},
      {"series": "BH Conc. (lbm/gal)", "time": 78, "ppg": 1.1},
      {"series": "BH Conc. (lbm/gal)", "time": 80, "ppg": 1.06},
      {"series": "BH Conc. (lbm/gal)", "time": 83, "ppg": 1.08},
      {"series": "BH Conc. (lbm/gal)", "time": 83.5, "ppg": 0},
      {"series": "BH Conc. (lbm/gal)", "time": 90.5, "ppg": 0},
      {"series": "BH Conc. (lbm/gal)", "time": 91, "ppg": 0.27},
      {"series": "BH Conc. (lbm/gal)", "time": 94, "ppg": 0.29},
      {"series": "BH Conc. (lbm/gal)", "time": 96.5, "ppg": 0.26},
      {"series": "BH Conc. (lbm/gal)", "time": 97, "ppg": 0},
      {"series": "BH Conc. (lbm/gal)", "time": 107.5, "ppg": 0},
      {"series": "BH Conc. (lbm/gal)", "time": 108, "ppg": 0.06},
      {"series": "BH Conc. (lbm/gal)", "time": 112, "ppg": 0.08},
      {"series": "BH Conc. (lbm/gal)", "time": 114.5, "ppg": 0.1},
      {"series": "BH Conc. (lbm/gal)", "time": 115, "ppg": 0.17},
      {"series": "BH Conc. (lbm/gal)", "time": 117, "ppg": 0.2},
      {"series": "BH Conc. (lbm/gal)", "time": 117.5, "ppg": 0.32},
      {"series": "BH Conc. (lbm/gal)", "time": 120, "ppg": 0.36},
      {"series": "BH Conc. (lbm/gal)", "time": 122, "ppg": 0.38},
      {"series": "BH Conc. (lbm/gal)", "time": 124, "ppg": 0.4},
      {"series": "BH Conc. (lbm/gal)", "time": 124.5, "ppg": 0.55},
      {"series": "BH Conc. (lbm/gal)", "time": 128, "ppg": 0.58},
      {"series": "BH Conc. (lbm/gal)", "time": 130, "ppg": 0.6},
      {"series": "BH Conc. (lbm/gal)", "time": 132.5, "ppg": 0.63},
      {"series": "BH Conc. (lbm/gal)", "time": 133, "ppg": 0.8},
      {"series": "BH Conc. (lbm/gal)", "time": 136, "ppg": 0.85},
      {"series": "BH Conc. (lbm/gal)", "time": 138.5, "ppg": 0.88},
      {"series": "BH Conc. (lbm/gal)", "time": 139, "ppg": 1.01},
      {"series": "BH Conc. (lbm/gal)", "time": 142, "ppg": 1.05},
      {"series": "BH Conc. (lbm/gal)", "time": 145, "ppg": 1.0},
      {"series": "BH Conc. (lbm/gal)", "time": 148, "ppg": 1.09},
      {"series": "BH Conc. (lbm/gal)", "time": 152, "ppg": 1.07},
      {"series": "BH Conc. (lbm/gal)", "time": 156, "ppg": 1.09},
      {"series": "BH Conc. (lbm/gal)", "time": 160, "ppg": 1.04},
      {"series": "BH Conc. (lbm/gal)", "time": 165, "ppg": 1.01},
      {"series": "BH Conc. (lbm/gal)", "time": 169, "ppg": 1.02},
      {"series": "BH Conc. (lbm/gal)", "time": 169.5, "ppg": 1.26},
      {"series": "BH Conc. (lbm/gal)", "time": 174, "ppg": 1.28},
      {"series": "BH Conc. (lbm/gal)", "time": 178, "ppg": 1.25},
      {"series": "BH Conc. (lbm/gal)", "time": 182.5, "ppg": 1.3},
      {"series": "BH Conc. (lbm/gal)", "time": 183, "ppg": 1.44},
      {"series": "BH Conc. (lbm/gal)", "time": 185, "ppg": 1.5},
      {"series": "BH Conc. (lbm/gal)", "time": 190, "ppg": 1.47},
      {"series": "BH Conc. (lbm/gal)", "time": 196, "ppg": 1.5},
      {"series": "BH Conc. (lbm/gal)", "time": 200, "ppg": 1.46},
      {"series": "BH Conc. (lbm/gal)", "time": 204, "ppg": 1.5},
      {"series": "BH Conc. (lbm/gal)", "time": 204.5, "ppg": 1.7},
      {"series": "BH Conc. (lbm/gal)", "time": 208, "ppg": 1.72},
      {"series": "BH Conc. (lbm/gal)", "time": 210, "ppg": 1.68},
      {"series": "BH Conc. (lbm/gal)", "time": 215, "ppg": 1.78},
      {"series": "BH Conc. (lbm/gal)", "time": 215.5, "ppg": 2.0},
      {"series": "BH Conc. (lbm/gal)", "time": 218, "ppg": 2.05},
      {"series": "BH Conc. (lbm/gal)", "time": 221, "ppg": 2.1},
      {"series": "BH Conc. (lbm/gal)", "time": 224, "ppg": 2.14},
      {"series": "BH Conc. (lbm/gal)", "time": 226, "ppg": 2.16},
      {"series": "BH Conc. (lbm/gal)", "time": 227, "ppg": 2.12},
      {"series": "BH Conc. (lbm/gal)", "time": 227.5, "ppg": 0},
      {"series": "BH Conc. (lbm/gal)", "time": 232, "ppg": 0}
    ]
  },
  "layer": [
    {
      "data": {"name": "pressure"},
      "mark": {"type": "line", "strokeWidth": 1.6, "clip": true},
      "encoding": {
        "x": {
          "field": "time", "type": "quantitative", "title": "Time (min)",
          "scale": {"domain": [0, 250], "nice": false},
          "axis": {"values": [0, 25, 50, 75, 100, 125, 150, 175, 200, 225, 250], "labelPadding": 4, "titlePadding": 3, "labelFlush": false}
        },
        "y": {
          "field": "psi", "type": "quantitative", "title": "Pressure (psi)",
          "scale": {"domain": [4000, 14000], "nice": false, "zero": false},
          "axis": {"orient": "left", "values": [4000, 5000, 6000, 7000, 8000, 9000, 10000, 11000, 12000, 13000, 14000], "labelExpr": "datum.value % 2000 === 0 ? format(datum.value, ',') : ''", "labelPadding": 3, "titlePadding": 5, "labelFlush": false}
        },
        "color": {
          "field": "series", "type": "nominal",
          "scale": {
            "domain": ["Surface Pressure (psi)", "BHTP (psi)", "Measured Surface Pres. (psi)", "Calc BHTP from Surface Pressure (psi)"],
            "range": ["#3f5fc0", "#ef5a44", "#72c84c", "#a33c3c"]
          },
          "legend": {
            "title": null, "orient": "none", "legendX": 4, "legendY": -62, "direction": "vertical",
            "encode": {"labels": {"update": {"fill": {"scale": "color", "field": "value"}}}}
          }
        }
      }
    },
    {
      "data": {"name": "rate"},
      "mark": {"type": "line", "strokeWidth": 1.5, "clip": true},
      "encoding": {
        "x": {"field": "time", "type": "quantitative"},
        "y": {
          "field": "bpm", "type": "quantitative", "title": "Rate & Concentration",
          "scale": {"domain": [0, 100], "nice": false},
          "axis": {"orient": "right", "grid": false, "values": [0, 20, 40, 60, 80, 100], "labelColor": "#1fa3a6", "labelBaseline": "alphabetic", "labelOffset": -1, "labelPadding": 16, "titlePadding": 8, "titleAngle": 90, "labelFlush": false}
        },
        "stroke": {
          "field": "series", "type": "nominal",
          "scale": {
            "domain": ["Measured Surface Rate (bpm)", "BH Conc. (lbm/gal)", "Measured Surface Conc. (lbm/gal)"],
            "range": ["#33b4cc", "#a8a53a", "#8b8f9c"]
          },
          "legend": {
            "title": null, "orient": "none", "legendX": 351, "legendY": -62, "direction": "vertical",
            "encode": {"labels": {"update": {"fill": {"scale": "stroke", "field": "value"}}}}
          }
        }
      }
    },
    {
      "data": {"name": "conc"},
      "mark": {"type": "line", "strokeWidth": 1.3, "clip": true},
      "encoding": {
        "x": {"field": "time", "type": "quantitative"},
        "y": {
          "field": "ppg", "type": "quantitative", "title": null,
          "scale": {"domain": [0, 5], "nice": false},
          "axis": {"orient": "right", "grid": false, "values": [0, 1, 2, 3, 4, 5], "format": ".1f", "labelColor": "#a39c36", "labelBaseline": "alphabetic", "labelOffset": 14, "labelPadding": 16, "labelFlush": false}
        },
        "stroke": {
          "field": "series", "type": "nominal",
          "scale": {
            "domain": ["Measured Surface Rate (bpm)", "BH Conc. (lbm/gal)", "Measured Surface Conc. (lbm/gal)"],
            "range": ["#33b4cc", "#a8a53a", "#8b8f9c"]
          },
          "legend": {
            "title": null, "orient": "none", "legendX": 351, "legendY": -62, "direction": "vertical",
            "encode": {"labels": {"update": {"fill": {"scale": "stroke", "field": "value"}}}}
          }
        }
      }
    }
  ],
  "resolve": {"scale": {"y": "independent"}, "axis": {"y": "independent"}}
}
